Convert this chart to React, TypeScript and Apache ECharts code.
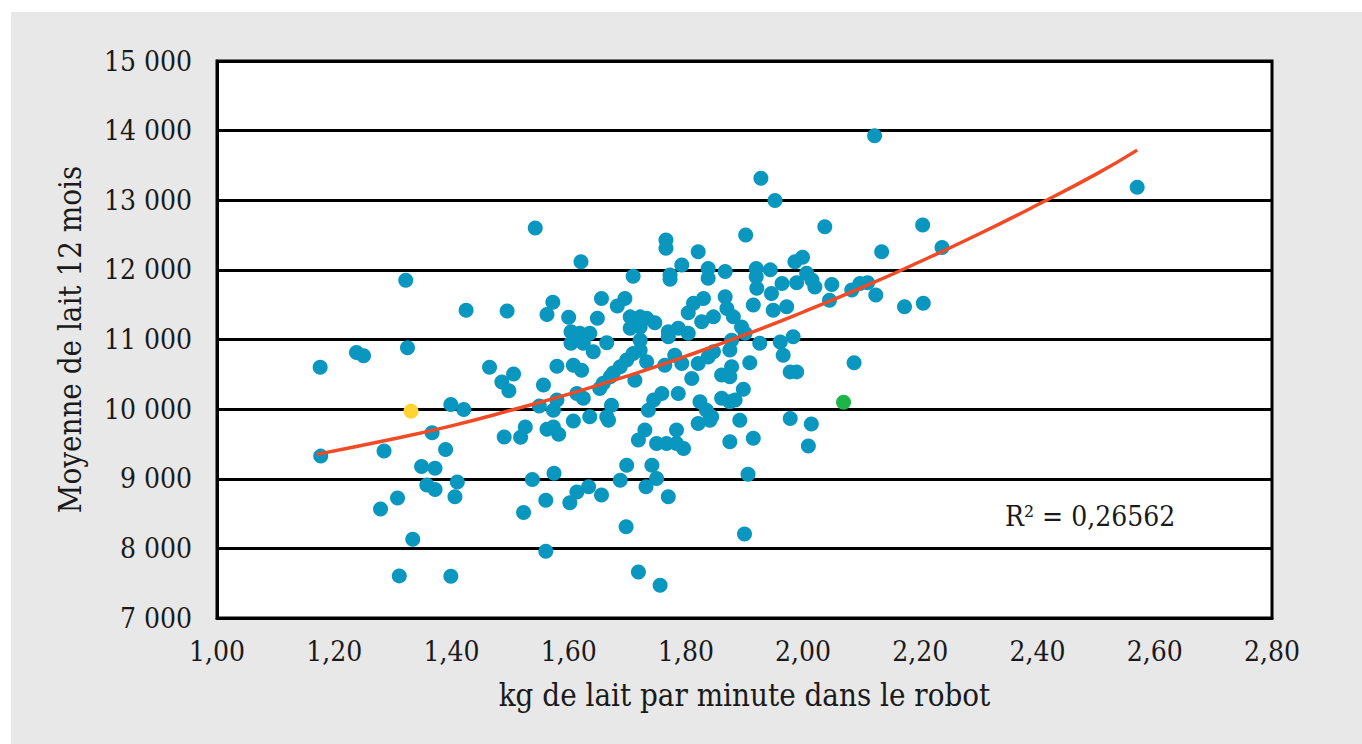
import React, { useEffect, useRef } from "react";
import * as echarts from "echarts";

// x: kg de lait par minute dans le robot, y: Moyenne de lait 12 mois
const farms: [number, number][] = [
  [1.543, 12600], [1.322, 11850], [1.425, 11420], [1.495, 11410], [1.573, 11535],
  [1.563, 11360], [1.176, 10600], [1.238, 10815], [1.25, 10765], [1.325, 10880],
  [1.465, 10600], [1.506, 10505], [1.486, 10390], [1.498, 10265], [1.557, 10345],
  [1.58, 10615], [1.399, 10065], [1.421, 9995], [1.55, 10045], [1.574, 9985],
  [1.177, 9325], [1.285, 9400], [1.367, 9660], [1.39, 9420], [1.49, 9600],
  [1.526, 9745], [1.518, 9595], [1.563, 9710], [1.583, 9640], [1.349, 9175],
  [1.372, 9150], [1.358, 8910], [1.372, 8845], [1.41, 8955], [1.406, 8740],
  [1.308, 8725], [1.279, 8565], [1.334, 8130], [1.311, 7605], [1.399, 7600],
  [1.538, 8990], [1.561, 8690], [1.523, 8515], [1.561, 7960], [1.575, 9080],
  [1.952, 12995], [1.902, 12500], [1.766, 12430], [1.766, 12310], [1.821, 12260],
  [1.621, 12115], [1.71, 11910], [1.773, 11925], [1.773, 11865], [1.793, 12070],
  [1.838, 12020], [1.838, 11880], [1.867, 11975], [1.92, 12020], [1.92, 11900],
  [1.944, 12000], [1.986, 12115], [1.656, 11590], [1.696, 11590], [1.683, 11480],
  [1.6, 11320], [1.649, 11305], [1.604, 11110], [1.604, 10945], [1.619, 11090],
  [1.636, 11090], [1.625, 10945], [1.642, 10825], [1.665, 10955], [1.705, 11325],
  [1.722, 11325], [1.733, 11305], [1.747, 11240], [1.705, 11160], [1.722, 11180],
  [1.722, 10990], [1.77, 11110], [1.787, 11160], [1.804, 11090], [1.77, 11040],
  [1.813, 11520], [1.83, 11590], [1.804, 11385], [1.827, 11255], [1.847, 11325],
  [1.867, 11615], [1.87, 11445], [1.881, 11325], [1.895, 11180], [1.901, 11090],
  [1.915, 11495], [1.921, 11735], [1.946, 11660], [1.949, 11420], [1.972, 11470],
  [1.961, 10965], [1.983, 11040], [1.926, 10945], [1.966, 10775], [1.978, 10535],
  [1.989, 10535], [1.978, 9865], [1.878, 10990], [1.875, 10850], [1.847, 10825],
  [1.838, 10750], [1.821, 10655], [1.781, 10775], [1.793, 10655], [1.764, 10630],
  [1.81, 10440], [1.861, 10490], [1.878, 10610], [1.875, 10465], [1.909, 10665],
  [1.898, 10285], [1.699, 10705], [1.71, 10800], [1.722, 10845], [1.733, 10680],
  [1.688, 10610], [1.676, 10520], [1.671, 10465], [1.659, 10370], [1.653, 10295],
  [1.713, 10415], [1.608, 10630], [1.622, 10560], [1.614, 10225], [1.625, 10155],
  [1.58, 10130], [1.736, 9985], [1.745, 10130], [1.759, 10225], [1.787, 10225],
  [1.824, 10105], [1.835, 9985], [1.844, 9890], [1.861, 10155], [1.875, 10105],
  [1.884, 10130], [1.821, 9795], [1.841, 9840], [1.892, 9840], [1.673, 10055],
  [1.665, 9890], [1.668, 9840], [1.636, 9890], [1.608, 9830], [1.574, 9745],
  [1.73, 9700], [1.719, 9555], [1.75, 9505], [1.767, 9505], [1.784, 9505],
  [1.796, 9435], [1.784, 9700], [1.875, 9530], [1.915, 9580], [1.699, 9195],
  [1.688, 8980], [1.742, 9195], [1.75, 9005], [1.732, 8885], [1.77, 8740],
  [1.656, 8765], [1.634, 8885], [1.614, 8810], [1.602, 8655], [1.906, 9065],
  [1.698, 8310], [1.9, 8205], [1.719, 7660], [1.756, 7470],
  [2.122, 13925], [2.037, 12620], [2.204, 12645], [2.134, 12260], [2.237, 12320],
  [1.999, 12180], [2.006, 11950], [2.015, 11855], [2.02, 11755], [1.989, 11815],
  [1.964, 11805], [2.049, 11790], [2.045, 11565], [2.083, 11710], [2.097, 11805],
  [2.11, 11815], [2.124, 11640], [2.173, 11470], [2.205, 11520], [2.087, 10665],
  [2.014, 9785], [2.009, 9470], [2.57, 13185], [1.928, 13315],
];

const yellowFarm: [number, number][] = [[1.331, 9970]];
const greenFarm: [number, number][] = [[2.069, 10100]];

// trend curve
const trendX = [1.17, 1.3, 1.4, 1.5, 1.6, 1.7, 1.8, 1.9, 2.0, 2.1, 2.2, 2.3, 2.4, 2.5, 2.57];
const trendY = [9350, 9570, 9760, 9980, 10215, 10475, 10760, 11065, 11395, 11745, 12120, 12515, 12935, 13375, 13720];

const xTicks = { min: 1, max: 2.8, interval: 0.2 };
const yTicks = { min: 7000, max: 15000, interval: 1000 };
const r2Label = "R² = 0,26562";

const FONT = "'DejaVu Serif Condensed', 'DejaVu Serif', serif";

export default function App() {
  const ref = useRef<HTMLDivElement>(null);
  useEffect(() => {
    if (!ref.current) return;
    const chart = echarts.init(ref.current, null, { renderer: "svg" });
    chart.setOption({
      animation: false,
      backgroundColor: "#e8e8e8",
      textStyle: { fontFamily: FONT },
      grid: {
        left: 206,
        top: 49,
        right: 90,
        bottom: 126,
        show: true,
        backgroundColor: "#ffffff",
        borderColor: "#000000",
        borderWidth: 3,
      },
      xAxis: {
        type: "value",
        min: xTicks.min,
        max: xTicks.max,
        interval: xTicks.interval,
        name: "kg de lait par minute dans le robot",
        nameLocation: "middle",
        nameGap: 61,
        nameTextStyle: { fontFamily: FONT, fontSize: 31, color: "#1a1a1a" },
        axisLine: { show: true, lineStyle: { color: "#000", width: 3 } },
        axisTick: { show: false },
        splitLine: { show: false },
        axisLabel: {
          margin: 19,
          fontFamily: FONT,
          fontSize: 28,
          color: "#1a1a1a",
          formatter: (v: number) => v.toFixed(2).replace(".", ","),
        },
      },
      yAxis: {
        type: "value",
        min: yTicks.min,
        max: yTicks.max,
        interval: yTicks.interval,
        name: "Moyenne de lait 12 mois",
        nameLocation: "middle",
        nameGap: 132,
        nameTextStyle: { fontFamily: FONT, fontSize: 31, color: "#1a1a1a" },
        axisLine: { show: true, lineStyle: { color: "#000", width: 3 } },
        axisTick: { show: false },
        splitLine: { show: true, lineStyle: { color: "#000", width: 3 } },
        axisLabel: {
          margin: 25,
          fontFamily: FONT,
          fontSize: 28,
          color: "#1a1a1a",
          formatter: (v: number) => {
            const s = String(v);
            return s.length > 3 ? s.slice(0, s.length - 3) + " " + s.slice(-3) : s;
          },
        },
      },
      series: [
        {
          type: "scatter",
          data: farms,
          symbolSize: 15,
          itemStyle: { color: "#0996bf", opacity: 1 },
          z: 2,
        },
        {
          type: "line",
          data: trendX.map((x, i) => [x, trendY[i]]),
          smooth: true,
          showSymbol: false,
          symbol: "none",
          lineStyle: { color: "#f24a24", width: 3.5 },
          z: 3,
        },
        {
          type: "scatter",
          data: yellowFarm,
          symbolSize: 15,
          itemStyle: { color: "#fdd431", opacity: 1 },
          z: 4,
        },
        {
          type: "scatter",
          data: greenFarm,
          symbolSize: 15,
          itemStyle: { color: "#1db548", opacity: 1 },
          z: 4,
        },
      ],
      graphic: [
        {
          type: "text",
          left: 994,
          top: 490,
          z: 10,
          style: {
            text: r2Label,
            fontFamily: FONT,
            fontSize: 28,
            fill: "#1a1a1a",
          },
        },
      ],
    });
    return () => chart.dispose();
  }, []);
  return (
    <div style={{ position: "fixed", left: 0, top: 0, width: 1362, height: 744, background: "#ffffff" }}>
      <div
        ref={ref}
        style={{ position: "absolute", left: 11, top: 12, width: 1351, height: 732 }}
      />
    </div>
  );
}
